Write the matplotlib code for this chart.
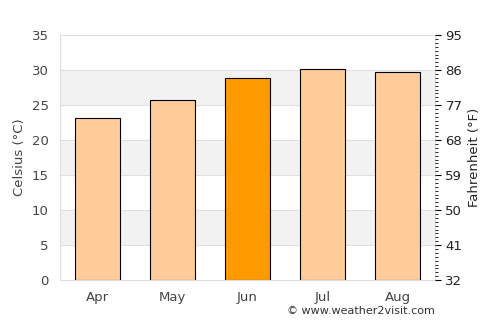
import matplotlib
matplotlib.use("Agg")
import matplotlib.pyplot as plt

# monthly average temperature (Celsius)
months = ["Apr", "May", "Jun", "Jul", "Aug"]
temps_c = [23.1, 25.8, 28.9, 30.1, 29.8]
highlight = "Jun"

bar_color = "#ffcc99"
hl_color = "#ff9900"
grid_color = "#e0e0e0"
band_color = "#f2f2f2"
text_color = "#444444"

fig = plt.figure(figsize=(5, 3.25), dpi=100)
ax = fig.add_axes([0.12, 0.138, 0.75, 0.754])

# alternating bands
for lo in [5, 15, 25]:
    ax.axhspan(lo, lo + 5, color=band_color, zorder=0, lw=0)
for y in range(5, 35, 5):
    ax.axhline(y, color=grid_color, lw=0.8, zorder=0.5)

colors = [hl_color if m == highlight else bar_color for m in months]
ax.bar(range(len(months)), temps_c, width=0.6, color=colors,
       edgecolor="black", linewidth=0.8, zorder=2)

ax.set_xlim(-0.5, len(months) - 0.5)
ax.set_ylim(0, 35)
ax.set_yticks(range(0, 40, 5))
ax.set_xticks(range(len(months)))
ax.set_xticklabels(months)
ax.set_ylabel("Celsius (°C)", color=text_color, fontsize=9.5)
ax.tick_params(axis="both", colors=text_color, labelsize=9.5, length=0, pad=8)
for s in ax.spines.values():
    s.set_color("#dddddd")
    s.set_linewidth(0.8)

# Fahrenheit axis
ax2 = ax.twinx()
ax2.set_ylim(32, 32 + 35 * 9 / 5)
ax2.set_yticks(range(32, 96, 9))
ax2.set_yticks(range(32, 96), minor=True)
ax2.tick_params(axis="y", which="major", length=4, colors="black", labelsize=9.5, labelcolor="#222222")
ax2.tick_params(axis="y", which="minor", length=2, colors="black")
ax2.set_ylabel("Fahrenheit (°F)", color="#222222", fontsize=9.5)
for s in ax2.spines.values():
    s.set_visible(False)

fig.text(0.87, 0.028, "© www.weather2visit.com", ha="right", va="bottom",
         fontsize=8, color="#333333")

fig.savefig("out.png", dpi=100)
